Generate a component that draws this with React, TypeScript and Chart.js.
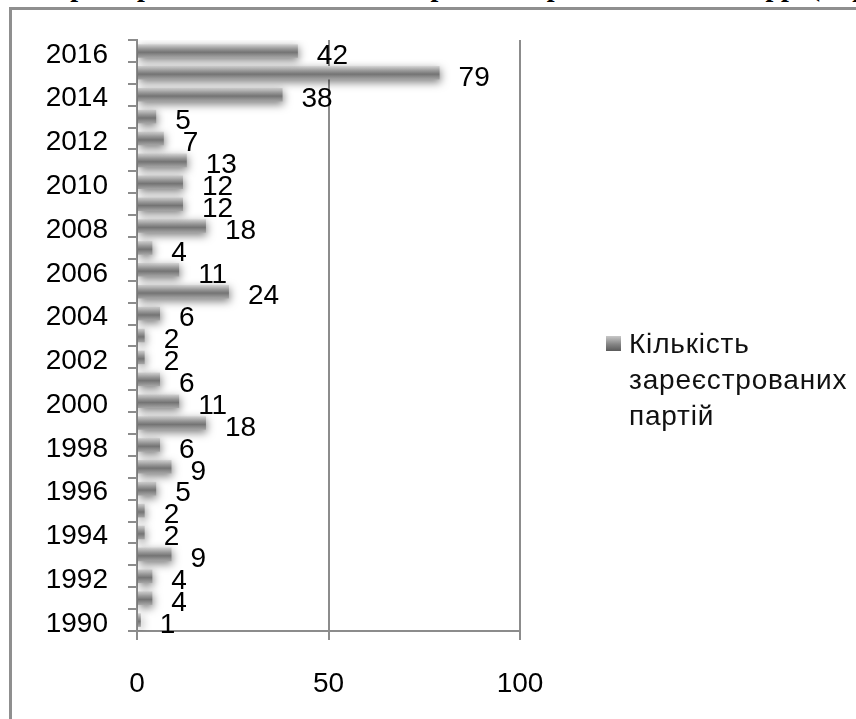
import React, { useEffect, useRef } from "react";
import { Chart, registerables } from "chart.js";

Chart.register(...registerables);

const years: string[] = [
  "1990", "1991", "1992", "1993", "1994", "1995", "1996", "1997", "1998",
  "1999", "2000", "2001", "2002", "2003", "2004", "2005", "2006", "2007",
  "2008", "2009", "2010", "2011", "2012", "2013", "2014", "2015", "2016",
];
const partyCounts: number[] = [
  1, 4, 4, 9, 2, 2, 5, 9, 6, 18, 11, 6, 2, 2, 6, 24, 11, 4, 18, 12, 12, 13, 7, 5, 38, 79, 42,
];
const seriesLabel = "Кількість зареєстрованих партій";
const legendLines: string[] = ["Кількість", "зареєстрованих", "партій"];
const xTicks: number[] = [0, 50, 100];
const titlePrefix = "Кількість ";
const titleText = "зареєстрованих політичних партій в Україні в 1990-2016 рр. (за роками)";

const FONT = "Arial, 'Liberation Sans', sans-serif";
const AXIS_GRAY = "#8c8c8c";
const BAR_PCT = 0.62;

const barStylePlugin = {
  id: "barStyle",
  beforeDatasetDraw(chart: any) {
    const ctx = chart.ctx;
    ctx.save();
    ctx.shadowColor = "rgba(0,0,0,0.5)";
    ctx.shadowBlur = 8;
    ctx.shadowOffsetX = 1;
    ctx.shadowOffsetY = 3;
  },
  afterDatasetDraw(chart: any) {
    chart.ctx.restore();
  },
};

const valueLabelPlugin = {
  id: "valueLabels",
  afterDatasetsDraw(chart: any) {
    const ctx = chart.ctx;
    const meta = chart.getDatasetMeta(0);
    const data = chart.data.datasets[0].data as number[];
    ctx.save();
    ctx.font = `28px ${FONT}`;
    ctx.fillStyle = "#000";
    ctx.textAlign = "left";
    ctx.textBaseline = "middle";
    meta.data.forEach((el: any, i: number) => {
      ctx.fillText(String(data[i]), el.x + 19, el.y + 5);
    });
    ctx.restore();
  },
};

function barGradient(c: any) {
  const chart = c.chart;
  const ys = chart.scales && chart.scales.y;
  if (!ys || !chart.chartArea || c.dataIndex === undefined) return "#8a8a8a";
  const cy = ys.getPixelForValue(c.dataIndex);
  const step = Math.abs(ys.getPixelForValue(1) - ys.getPixelForValue(0));
  const half = (step * BAR_PCT) / 2;
  const g = chart.ctx.createLinearGradient(0, cy - half, 0, cy + half);
  g.addColorStop(0, "#d4d4d4");
  g.addColorStop(0.35, "#979797");
  g.addColorStop(0.6, "#747474");
  g.addColorStop(1, "#a6a6a6");
  return g;
}

export default function App() {
  const canvasRef = useRef<HTMLCanvasElement | null>(null);

  useEffect(() => {
    if (!canvasRef.current) return;
    const chart = new Chart(canvasRef.current, {
      type: "bar",
      data: {
        labels: years,
        datasets: [
          {
            label: seriesLabel,
            data: partyCounts,
            backgroundColor: barGradient,
            borderWidth: 0,
            categoryPercentage: 1,
            barPercentage: BAR_PCT,
          },
        ],
      },
      options: {
        indexAxis: "y",
        responsive: false,
        animation: false,
        devicePixelRatio: 1,
        layout: { padding: { left: 0, top: 40, right: 336, bottom: 0 } },
        plugins: {
          legend: { display: false },
          tooltip: { enabled: false },
          title: { display: false },
        },
        scales: {
          x: {
            type: "linear",
            min: 0,
            max: 100,
            afterFit: (scale: any) => {
              scale.height = 88;
            },
            afterBuildTicks: (scale: any) => {
              scale.ticks = xTicks.map((v) => ({ value: v }));
            },
            ticks: {
              font: { family: FONT, size: 28 },
              color: "#000",
              padding: 27,
            },
            grid: {
              color: AXIS_GRAY,
              lineWidth: 2,
              drawTicks: true,
              tickLength: 9,
              drawOnChartArea: true,
            },
            border: { display: true, color: AXIS_GRAY, width: 2 },
          },
          y: {
            type: "category",
            reverse: true,
            afterFit: (scale: any) => {
              scale.width = 137;
            },
            ticks: {
              autoSkip: false,
              font: { family: FONT, size: 28 },
              color: "#000",
              padding: 20,
              labelOffset: 4,
              callback: function (this: any, _v: any, index: number) {
                return index % 2 === 0 ? years[index] : "";
              },
            },
            grid: {
              offset: true,
              color: AXIS_GRAY,
              lineWidth: 2,
              drawTicks: true,
              tickLength: 9,
              drawOnChartArea: false,
            },
            border: { display: true, color: AXIS_GRAY, width: 2 },
          },
        },
      },
      plugins: [barStylePlugin, valueLabelPlugin],
    });
    return () => chart.destroy();
  }, []);

  return (
    <div
      style={{
        position: "fixed",
        left: 0,
        top: 0,
        width: 856,
        height: 719,
        overflow: "hidden",
        background: "#fff",
      }}
    >
      <div
        style={{
          position: "absolute",
          left: 45,
          top: -27,
          whiteSpace: "nowrap",
          fontFamily: "'Times New Roman', 'Liberation Serif', serif",
          fontWeight: "bold",
          fontSize: 28,
          lineHeight: "28px",
          color: "#000",
        }}
      >
        <span style={{ position: "absolute", right: "100%" }}>{titlePrefix}</span>
        {titleText}
      </div>
      <div
        style={{
          position: "absolute",
          left: 9,
          top: 7,
          width: 1000,
          height: 1000,
          border: "3px solid #8f8f8f",
          boxSizing: "border-box",
        }}
      />
      <canvas
        ref={canvasRef}
        width={856}
        height={719}
        style={{ position: "absolute", left: 0, top: 0, width: 856, height: 719 }}
      />
      <div
        style={{
          position: "absolute",
          left: 606,
          top: 336,
          width: 15,
          height: 15,
          background: "linear-gradient(180deg, #c8c8c8 0%, #858585 55%, #5a5a5a 100%)",
        }}
      />
      <div
        style={{
          position: "absolute",
          left: 629,
          top: 326,
          fontFamily: FONT,
          fontSize: 28,
          lineHeight: "36px",
          letterSpacing: "0.8px",
          color: "#111",
          whiteSpace: "nowrap",
        }}
      >
        {legendLines.map((l, i) => (
          <div key={i}>{l}</div>
        ))}
      </div>
    </div>
  );
}
